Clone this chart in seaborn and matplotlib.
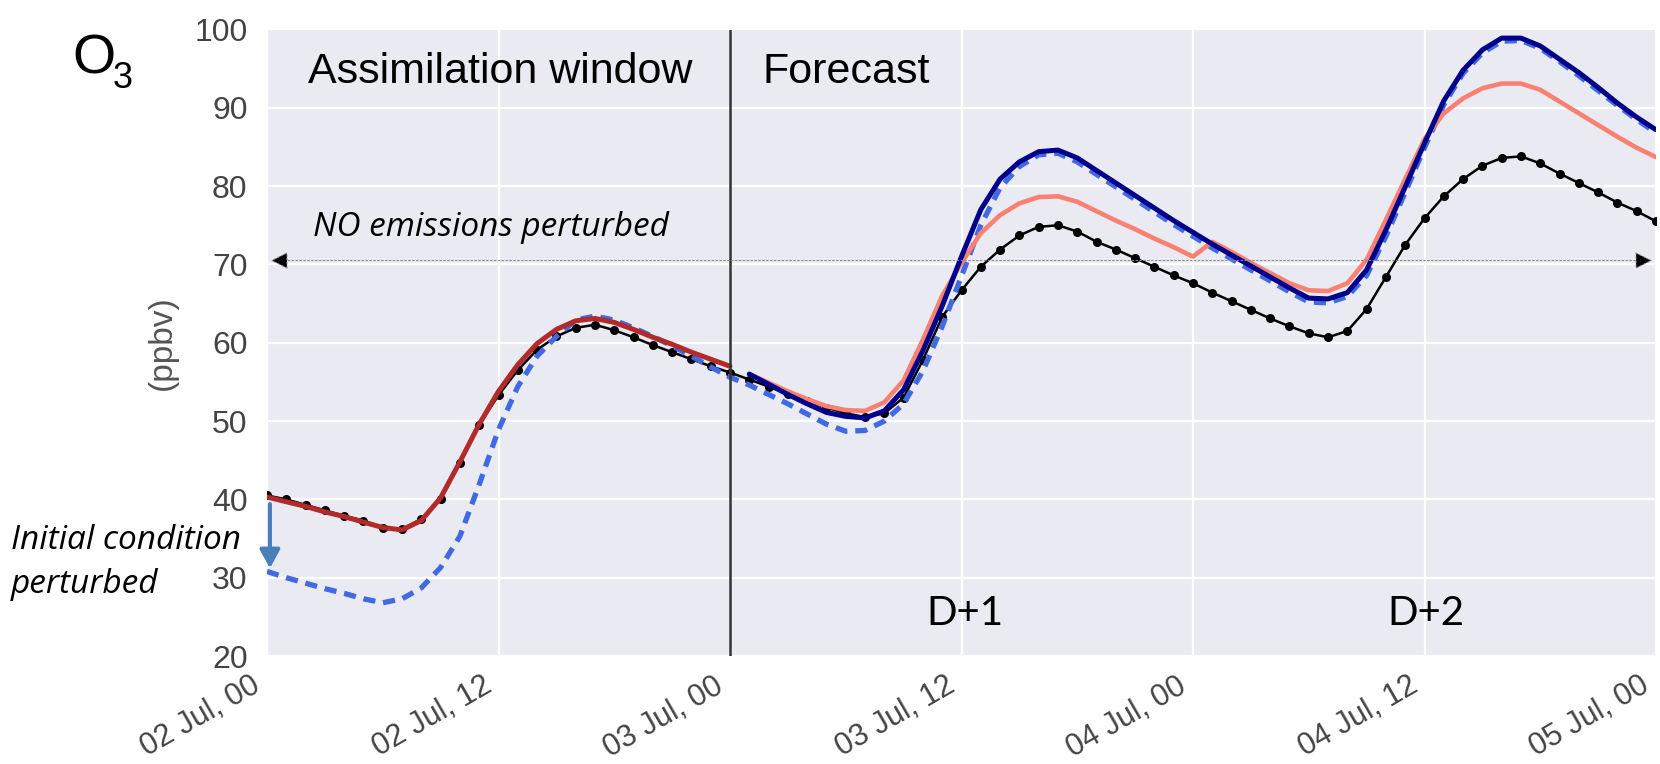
import matplotlib
matplotlib.use("Agg")
import matplotlib.pyplot as plt
import matplotlib.transforms as mtransforms
import seaborn as sns

# ---------------- data ----------------
hours_all = list(range(0, 73))
hours_assim = list(range(0, 25))
hours_fc = list(range(25, 73))

tick_hours = [0, 12, 24, 36, 48, 60, 72]
tick_labels = ["02 Jul, 00", "02 Jul, 12", "03 Jul, 00", "03 Jul, 12",
               "04 Jul, 00", "04 Jul, 12", "05 Jul, 00"]
y_ticks = [20, 30, 40, 50, 60, 70, 80, 90, 100]

# reference run (black, dots)
reference = [40.5, 40.0, 39.3, 38.6, 37.9, 37.3, 36.4, 36.2, 37.5, 40.1,
             44.7, 49.5, 53.3, 56.5, 59.1, 60.8, 61.9, 62.3, 61.6, 60.7,
             59.7, 58.8, 57.9, 57.0, 56.2,
             55.3, 54.4, 53.5, 52.6, 51.7, 51.0, 50.5, 51.0, 53.0, 57.8,
             63.3, 66.7, 69.7, 71.9, 73.7, 74.8, 75.0, 74.2, 72.9, 71.9,
             70.8, 69.7, 68.6, 67.6, 66.4, 65.3, 64.2, 63.1, 62.1, 61.2,
             60.7, 61.5, 64.3, 68.4, 72.5, 75.9, 78.7, 80.9, 82.6, 83.6,
             83.8, 82.9, 81.6, 80.4, 79.2, 77.9, 76.8, 75.5]

# analysis in assimilation window (firebrick)
analysis = [40.3, 39.7, 39.1, 38.4, 37.8, 37.1, 36.4, 36.1, 37.3, 40.2,
            44.8, 49.6, 53.8, 57.2, 59.9, 61.7, 62.8, 63.1, 62.6, 61.7,
            60.7, 59.8, 58.8, 57.9, 57.0]

# perturbed initial condition run (royal blue dashed)
perturbed_ic = [30.8, 30.0, 29.3, 28.6, 28.0, 27.3, 26.8, 27.3, 28.7, 31.3,
                35.3, 41.9, 48.9, 54.4, 58.3, 60.8, 62.9, 63.4, 62.9, 61.9,
                60.8, 59.6, 58.3, 56.9, 55.6,
                54.6, 53.4, 52.2, 50.9, 49.6, 48.7, 48.8, 50.0, 52.2, 56.4,
                62.1, 68.5, 75.0, 79.8, 82.5, 84.0, 84.2, 83.1, 81.5, 79.9,
                78.3, 76.7, 75.1, 73.6, 72.1, 70.7, 69.3, 67.9, 66.5, 65.2,
                65.1, 65.9, 68.6, 73.6, 79.2, 84.9, 90.4, 94.4, 97.0, 98.5,
                98.6, 97.6, 95.9, 94.1, 92.2, 90.3, 88.5, 86.8]

# forecast (navy)
forecast = [56.0, 54.7, 53.4, 52.2, 51.1, 50.6, 50.4, 51.3, 54.0, 59.0,
            64.7, 71.0, 77.0, 80.9, 83.1, 84.4, 84.6, 83.6, 82.0, 80.4,
            78.8, 77.2, 75.6, 74.1, 72.6, 71.2, 69.8, 68.4, 67.0, 65.7,
            65.6, 66.4, 69.3, 74.4, 79.9, 85.5, 90.9, 94.8, 97.4, 98.9,
            98.9, 97.9, 96.2, 94.5, 92.6, 90.6, 88.8, 87.2]

# forecast with perturbed NO emissions (salmon)
forecast_no = [56.0, 54.9, 53.8, 52.8, 51.9, 51.4, 51.3, 52.4, 55.2, 60.4,
               66.0, 70.2, 74.0, 76.3, 77.8, 78.6, 78.7, 78.0, 76.8, 75.6,
               74.5, 73.3, 72.2, 71.0, 72.9, 71.6, 70.2, 68.9, 67.6, 66.7,
               66.6, 67.6, 70.6, 75.7, 80.9, 86.0, 89.3, 91.2, 92.5, 93.1,
               93.1, 92.3, 90.8, 89.3, 87.8, 86.3, 84.9, 83.7]

# ---------------- style ----------------
sns.set_theme(style="darkgrid", rc={
    "axes.facecolor": "#EAEAF2",
    "grid.color": "white",
    "grid.linewidth": 1.6,
})
plt.rcParams["font.family"] = ["Liberation Sans", "DejaVu Sans"]

W, H = 1660, 764
fig = plt.figure(figsize=(W / 100, H / 100), dpi=100)
left, right, top, bottom = 267, 1656, 29.5, 656
ax = fig.add_axes([left / W, 1 - bottom / H, (right - left) / W, (bottom - top) / H])

sns.lineplot(x=hours_all, y=reference, color="black", lw=1.8, marker="o",
             markersize=6.5, markeredgewidth=0, ax=ax, zorder=2)
sns.lineplot(x=hours_all, y=perturbed_ic, color="#4169E1", lw=3.8,
             linestyle=(0, (2.3, 1.5)), ax=ax, zorder=3)
sns.lineplot(x=hours_fc, y=forecast_no, color="#FA8072", lw=3.3, ax=ax, zorder=4)
sns.lineplot(x=hours_fc, y=forecast, color="#00008B", lw=3.6, ax=ax, zorder=5)
sns.lineplot(x=hours_assim, y=analysis, color="#B22A2A", lw=3.6, ax=ax, zorder=5)

ax.set_xlim(0, 72)
ax.set_ylim(20, 100)
ax.set_yticks(y_ticks)
ax.set_xticks(tick_hours)
ax.set_xticklabels(tick_labels, rotation=30, ha="right", va="center",
                   rotation_mode="anchor")
ax.tick_params(axis="y", labelsize=23, labelcolor="#444444", pad=14, length=0)
ax.tick_params(axis="x", labelsize=22, labelcolor="#444444", pad=20, length=0)
shift = mtransforms.ScaledTranslation(-9 / 100, 0, fig.dpi_scale_trans)
for lab in ax.get_xticklabels():
    lab.set_transform(lab.get_transform() + shift)
ax.set_ylabel("(ppbv)", fontsize=24, color="#555555", labelpad=12)
ax.set_xlabel("")
for s in ax.spines.values():
    s.set_visible(False)

# boundary between assimilation window and forecast
ax.axvline(24, color="#333333", lw=1.8, zorder=6)

# section titles
ax.text(2.15, 93.2, "Assimilation window", fontsize=31, color="black",
        va="baseline", ha="left", zorder=7)
ax.text(25.7, 93.2, "Forecast", fontsize=31, color="black",
        va="baseline", ha="left", zorder=7)

# NO emissions annotation
ax.annotate("", xy=(0.2, 70.5), xytext=(71.8, 70.5),
            arrowprops=dict(arrowstyle="<|-|>,head_length=0.54,head_width=0.27",
                            mutation_scale=20, lw=0.7, linestyle=(0, (2, 2)),
                            ec="#888888", fc="black", shrinkA=0, shrinkB=0),
            zorder=6)
ax.text(2.4, 73.6, "NO emissions perturbed", fontsize=24, family="Open Sans",
        style="italic", color="black", va="baseline", ha="left", zorder=7)

# initial condition perturbation arrow
ax.annotate("", xy=(0.15, 31.2), xytext=(0.15, 39.4),
            arrowprops=dict(arrowstyle="-|>,head_length=0.55,head_width=0.3",
                            mutation_scale=20, lw=3, color="#4A7EBB",
                            shrinkA=0, shrinkB=0),
            zorder=8, annotation_clip=False)
fig.text(11 / W, 1 - 549 / H, "Initial condition", fontsize=24, family="Open Sans",
         style="italic", color="black", va="baseline", ha="left")
fig.text(11 / W, 1 - 593 / H, "perturbed", fontsize=24, family="Open Sans",
         style="italic", color="black", va="baseline", ha="left")

# lead-time labels
ax.text(34.2, 24.0, "D+1", fontsize=29, family="Lato", color="black",
        va="baseline", ha="left", zorder=7)
ax.text(58.06, 24.0, "D+2", fontsize=29, family="Lato", color="black",
        va="baseline", ha="left", zorder=7)

# species label: O with subscript 3
fig.text(72 / W, 1 - 74 / H, "O", fontsize=40, color="black",
         va="baseline", ha="left")
fig.text(113 / W, 1 - 88 / H, "3", fontsize=26, color="black",
         va="baseline", ha="left")

fig.savefig("out.png", dpi=100)
